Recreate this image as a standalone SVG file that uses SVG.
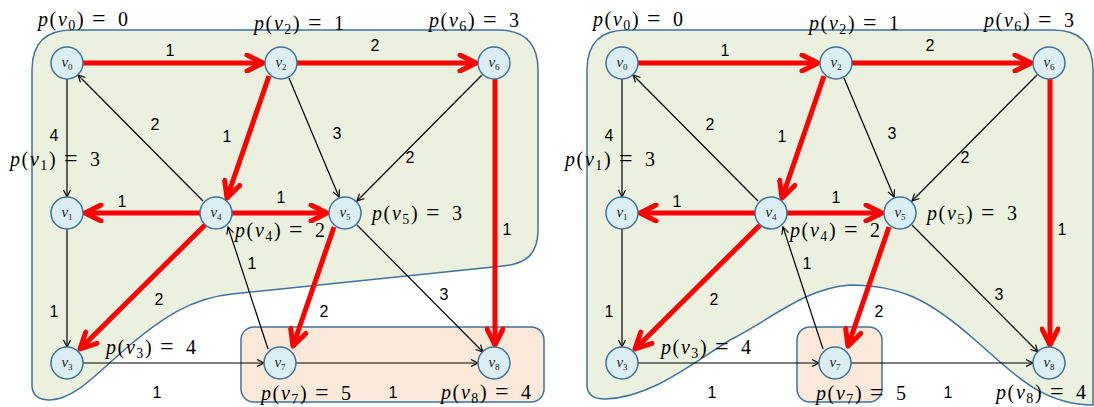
<svg xmlns="http://www.w3.org/2000/svg" width="1094" height="407" viewBox="0 0 1094 407">
<style>
.region{fill:#EBF1DE;stroke:#41719C;stroke-width:1.5}
.box{fill:#FDE9D9;stroke:#41719C;stroke-width:1.5}
.node circle{fill:#DAEEF3;stroke:#41719C;stroke-width:1.5}
.nl{font-family:"Liberation Serif",serif;font-size:15px;font-style:italic;fill:#222;text-anchor:middle}
.nl .s{font-size:9px;font-style:normal}
.red{stroke:#FF0000;stroke-width:5;fill:none;marker-end:url(#ar)}
.blk{stroke:#000;stroke-width:1.2;fill:none;marker-end:url(#ab)}
.w{font-family:"Liberation Sans",Arial,sans-serif;font-size:16px;fill:#000;text-anchor:middle}
.pl{font-family:"Liberation Serif",serif;font-size:20px;fill:#000;letter-spacing:1.6px}
.pl .i{font-style:italic}
.pl .s{font-size:14px}
.pl .eq{font-size:24px}
</style>
<defs>
<marker id="ar" viewBox="-20 -10 24 20" refX="0" refY="0" markerWidth="24" markerHeight="20" markerUnits="userSpaceOnUse" orient="auto"><path d="M-16,-8 L0,0 L-16,8" fill="none" stroke="#FF0000" stroke-width="5" stroke-linecap="round" stroke-linejoin="round"/></marker>
<marker id="ab" viewBox="-10 -6 12 12" refX="0" refY="0" markerWidth="12" markerHeight="12" markerUnits="userSpaceOnUse" orient="auto"><path d="M-7,-3.5 L0,0 L-7,3.5" fill="none" stroke="#000" stroke-width="1.2"/></marker>
</defs>

<g id="regions">
<path id="L-region" class="region" d="M32,70 Q32,30 72,30 L498,30 Q538,30 538,70 L538,230 C538,255 525,264 503,266 L232,294 C190,298 160,320 130,345 C100,370 75,400 50,400 Q32,400 32,385 Z"/>
<rect id="L-box" class="box" x="241" y="327" width="303" height="75" rx="13"/>
<path id="R-region" class="region" d="M587,70 Q587,30 627,30 L1053,30 Q1093,30 1093,70 L1093,405 C1040,405 1010,370 975,340 C930,300 900,285 850,285 C805,288 770,320 730,340 C690,365 650,398 605,399 Q587,399 587,385 Z"/>
<rect id="R-box" class="box" x="797" y="327" width="85" height="75" rx="13"/>
</g>

<!-- left graph -->
<g id="L-connectors">
<line class="blk" x1="67" y1="79" x2="67" y2="197"/>
<line class="blk" x1="203" y1="201" x2="78" y2="75"/>
<line class="blk" x1="289" y1="78" x2="339" y2="197"/>
<line class="blk" x1="482" y1="75" x2="357" y2="201"/>
<line class="blk" x1="67" y1="229" x2="67" y2="347"/>
<line class="blk" x1="268" y1="349" x2="228" y2="227"/>
<line class="blk" x1="357" y1="225" x2="483" y2="352"/>
<line class="blk" x1="83" y1="363" x2="264" y2="363"/>
<line class="blk" x1="296" y1="363" x2="478" y2="363"/>
<line class="red" x1="83" y1="63" x2="263" y2="63"/>
<line class="red" x1="297" y1="63" x2="476" y2="63"/>
<line class="red" x1="269" y1="76" x2="227" y2="198"/>
<line class="red" x1="200" y1="213" x2="85" y2="213"/>
<line class="red" x1="232" y1="213" x2="327" y2="213"/>
<line class="red" x1="205" y1="225" x2="80" y2="349"/>
<line class="red" x1="334" y1="227" x2="293" y2="346"/>
<line class="red" x1="495" y1="79" x2="495" y2="345"/>
<g id="L-weights">
<text class="w" x="170" y="56">1</text>
<text class="w" x="375" y="51">2</text>
<text class="w" x="54" y="141">4</text>
<text class="w" x="155" y="130">2</text>
<text class="w" x="227" y="142">1</text>
<text class="w" x="337" y="139">3</text>
<text class="w" x="410" y="163">2</text>
<text class="w" x="122" y="207">1</text>
<text class="w" x="281" y="203">1</text>
<text class="w" x="507" y="235">1</text>
<text class="w" x="252" y="269">1</text>
<text class="w" x="159" y="305">2</text>
<text class="w" x="54" y="317">1</text>
<text class="w" x="324" y="317">2</text>
<text class="w" x="444" y="300">3</text>
<text class="w" x="157" y="398">1</text>
<text class="w" x="393" y="398">1</text>
</g>
</g>
<g id="L-v0" class="node"><circle cx="67" cy="63" r="16"/><text class="nl" x="67" y="67">v<tspan class="s" dy="3">0</tspan></text></g>
<g id="L-v2" class="node"><circle cx="281" cy="63" r="16"/><text class="nl" x="281" y="67">v<tspan class="s" dy="3">2</tspan></text></g>
<g id="L-v6" class="node"><circle cx="494" cy="63" r="16"/><text class="nl" x="494" y="67">v<tspan class="s" dy="3">6</tspan></text></g>
<g id="L-v1" class="node"><circle cx="67" cy="213" r="16"/><text class="nl" x="67" y="217">v<tspan class="s" dy="3">1</tspan></text></g>
<g id="L-v4" class="node"><circle cx="216" cy="213" r="16"/><text class="nl" x="216" y="217">v<tspan class="s" dy="3">4</tspan></text></g>
<g id="L-v5" class="node"><circle cx="345" cy="213" r="16"/><text class="nl" x="345" y="217">v<tspan class="s" dy="3">5</tspan></text></g>
<g id="L-v3" class="node"><circle cx="67" cy="363" r="16"/><text class="nl" x="67" y="367">v<tspan class="s" dy="3">3</tspan></text></g>
<g id="L-v7" class="node"><circle cx="280" cy="363" r="16"/><text class="nl" x="280" y="367">v<tspan class="s" dy="3">7</tspan></text></g>
<g id="L-v8" class="node"><circle cx="494" cy="363" r="16"/><text class="nl" x="494" y="367">v<tspan class="s" dy="3">8</tspan></text></g>
<g id="L-labels">
<text class="pl" x="38" y="26"><tspan class="i">p</tspan>(<tspan class="i">v</tspan><tspan class="s" dy="4">0</tspan><tspan dy="-4">)</tspan><tspan class="eq" x="92">=</tspan><tspan x="118">0</tspan></text>
<text class="pl" x="254" y="30"><tspan class="i">p</tspan>(<tspan class="i">v</tspan><tspan class="s" dy="4">2</tspan><tspan dy="-4">)</tspan><tspan class="eq" x="308">=</tspan><tspan x="334">1</tspan></text>
<text class="pl" x="429" y="27"><tspan class="i">p</tspan>(<tspan class="i">v</tspan><tspan class="s" dy="4">6</tspan><tspan dy="-4">)</tspan><tspan class="eq" x="483">=</tspan><tspan x="509">3</tspan></text>
<text class="pl" x="10" y="166"><tspan class="i">p</tspan>(<tspan class="i">v</tspan><tspan class="s" dy="4">1</tspan><tspan dy="-4">)</tspan><tspan class="eq" x="64">=</tspan><tspan x="90">3</tspan></text>
<text class="pl" x="235" y="237"><tspan class="i">p</tspan>(<tspan class="i">v</tspan><tspan class="s" dy="4">4</tspan><tspan dy="-4">)</tspan><tspan class="eq" x="289">=</tspan><tspan x="315">2</tspan></text>
<text class="pl" x="372" y="220"><tspan class="i">p</tspan>(<tspan class="i">v</tspan><tspan class="s" dy="4">5</tspan><tspan dy="-4">)</tspan><tspan class="eq" x="426">=</tspan><tspan x="452">3</tspan></text>
<text class="pl" x="106" y="354"><tspan class="i">p</tspan>(<tspan class="i">v</tspan><tspan class="s" dy="4">3</tspan><tspan dy="-4">)</tspan><tspan class="eq" x="160">=</tspan><tspan x="186">4</tspan></text>
<text class="pl" x="261" y="400"><tspan class="i">p</tspan>(<tspan class="i">v</tspan><tspan class="s" dy="4">7</tspan><tspan dy="-4">)</tspan><tspan class="eq" x="315">=</tspan><tspan x="341">5</tspan></text>
<text class="pl" x="441" y="399"><tspan class="i">p</tspan>(<tspan class="i">v</tspan><tspan class="s" dy="4">8</tspan><tspan dy="-4">)</tspan><tspan class="eq" x="495">=</tspan><tspan x="521">4</tspan></text>
</g>

<!-- right graph -->
<g transform="translate(555,0)">
<g id="R-connectors">
<line class="blk" x1="67" y1="79" x2="67" y2="197"/>
<line class="blk" x1="203" y1="201" x2="78" y2="75"/>
<line class="blk" x1="289" y1="78" x2="339" y2="197"/>
<line class="blk" x1="482" y1="75" x2="357" y2="201"/>
<line class="blk" x1="67" y1="229" x2="67" y2="347"/>
<line class="blk" x1="268" y1="349" x2="228" y2="227"/>
<line class="blk" x1="357" y1="225" x2="483" y2="352"/>
<line class="blk" x1="83" y1="363" x2="264" y2="363"/>
<line class="blk" x1="296" y1="363" x2="478" y2="363"/>
<line class="red" x1="83" y1="63" x2="263" y2="63"/>
<line class="red" x1="297" y1="63" x2="476" y2="63"/>
<line class="red" x1="269" y1="76" x2="227" y2="198"/>
<line class="red" x1="200" y1="213" x2="85" y2="213"/>
<line class="red" x1="232" y1="213" x2="327" y2="213"/>
<line class="red" x1="205" y1="225" x2="80" y2="349"/>
<line class="red" x1="334" y1="227" x2="293" y2="346"/>
<line class="red" x1="495" y1="79" x2="495" y2="345"/>
<g id="R-weights">
<text class="w" x="170" y="56">1</text>
<text class="w" x="375" y="51">2</text>
<text class="w" x="54" y="141">4</text>
<text class="w" x="155" y="130">2</text>
<text class="w" x="227" y="142">1</text>
<text class="w" x="337" y="139">3</text>
<text class="w" x="410" y="163">2</text>
<text class="w" x="122" y="207">1</text>
<text class="w" x="281" y="203">1</text>
<text class="w" x="507" y="235">1</text>
<text class="w" x="252" y="269">1</text>
<text class="w" x="159" y="305">2</text>
<text class="w" x="54" y="317">1</text>
<text class="w" x="324" y="317">2</text>
<text class="w" x="444" y="300">3</text>
<text class="w" x="157" y="398">1</text>
<text class="w" x="393" y="398">1</text>
</g>
</g>
<g id="R-v0" class="node"><circle cx="67" cy="63" r="16"/><text class="nl" x="67" y="67">v<tspan class="s" dy="3">0</tspan></text></g>
<g id="R-v2" class="node"><circle cx="281" cy="63" r="16"/><text class="nl" x="281" y="67">v<tspan class="s" dy="3">2</tspan></text></g>
<g id="R-v6" class="node"><circle cx="494" cy="63" r="16"/><text class="nl" x="494" y="67">v<tspan class="s" dy="3">6</tspan></text></g>
<g id="R-v1" class="node"><circle cx="67" cy="213" r="16"/><text class="nl" x="67" y="217">v<tspan class="s" dy="3">1</tspan></text></g>
<g id="R-v4" class="node"><circle cx="216" cy="213" r="16"/><text class="nl" x="216" y="217">v<tspan class="s" dy="3">4</tspan></text></g>
<g id="R-v5" class="node"><circle cx="345" cy="213" r="16"/><text class="nl" x="345" y="217">v<tspan class="s" dy="3">5</tspan></text></g>
<g id="R-v3" class="node"><circle cx="67" cy="363" r="16"/><text class="nl" x="67" y="367">v<tspan class="s" dy="3">3</tspan></text></g>
<g id="R-v7" class="node"><circle cx="280" cy="363" r="16"/><text class="nl" x="280" y="367">v<tspan class="s" dy="3">7</tspan></text></g>
<g id="R-v8" class="node"><circle cx="494" cy="363" r="16"/><text class="nl" x="494" y="367">v<tspan class="s" dy="3">8</tspan></text></g>
<g id="R-labels">
<text class="pl" x="38" y="26"><tspan class="i">p</tspan>(<tspan class="i">v</tspan><tspan class="s" dy="4">0</tspan><tspan dy="-4">)</tspan><tspan class="eq" x="92">=</tspan><tspan x="118">0</tspan></text>
<text class="pl" x="254" y="30"><tspan class="i">p</tspan>(<tspan class="i">v</tspan><tspan class="s" dy="4">2</tspan><tspan dy="-4">)</tspan><tspan class="eq" x="308">=</tspan><tspan x="334">1</tspan></text>
<text class="pl" x="429" y="27"><tspan class="i">p</tspan>(<tspan class="i">v</tspan><tspan class="s" dy="4">6</tspan><tspan dy="-4">)</tspan><tspan class="eq" x="483">=</tspan><tspan x="509">3</tspan></text>
<text class="pl" x="10" y="166"><tspan class="i">p</tspan>(<tspan class="i">v</tspan><tspan class="s" dy="4">1</tspan><tspan dy="-4">)</tspan><tspan class="eq" x="64">=</tspan><tspan x="90">3</tspan></text>
<text class="pl" x="235" y="237"><tspan class="i">p</tspan>(<tspan class="i">v</tspan><tspan class="s" dy="4">4</tspan><tspan dy="-4">)</tspan><tspan class="eq" x="289">=</tspan><tspan x="315">2</tspan></text>
<text class="pl" x="372" y="220"><tspan class="i">p</tspan>(<tspan class="i">v</tspan><tspan class="s" dy="4">5</tspan><tspan dy="-4">)</tspan><tspan class="eq" x="426">=</tspan><tspan x="452">3</tspan></text>
<text class="pl" x="106" y="354"><tspan class="i">p</tspan>(<tspan class="i">v</tspan><tspan class="s" dy="4">3</tspan><tspan dy="-4">)</tspan><tspan class="eq" x="160">=</tspan><tspan x="186">4</tspan></text>
<text class="pl" x="261" y="400"><tspan class="i">p</tspan>(<tspan class="i">v</tspan><tspan class="s" dy="4">7</tspan><tspan dy="-4">)</tspan><tspan class="eq" x="315">=</tspan><tspan x="341">5</tspan></text>
<text class="pl" x="441" y="399"><tspan class="i">p</tspan>(<tspan class="i">v</tspan><tspan class="s" dy="4">8</tspan><tspan dy="-4">)</tspan><tspan class="eq" x="495">=</tspan><tspan x="521">4</tspan></text>
</g>
</g>
</svg>
